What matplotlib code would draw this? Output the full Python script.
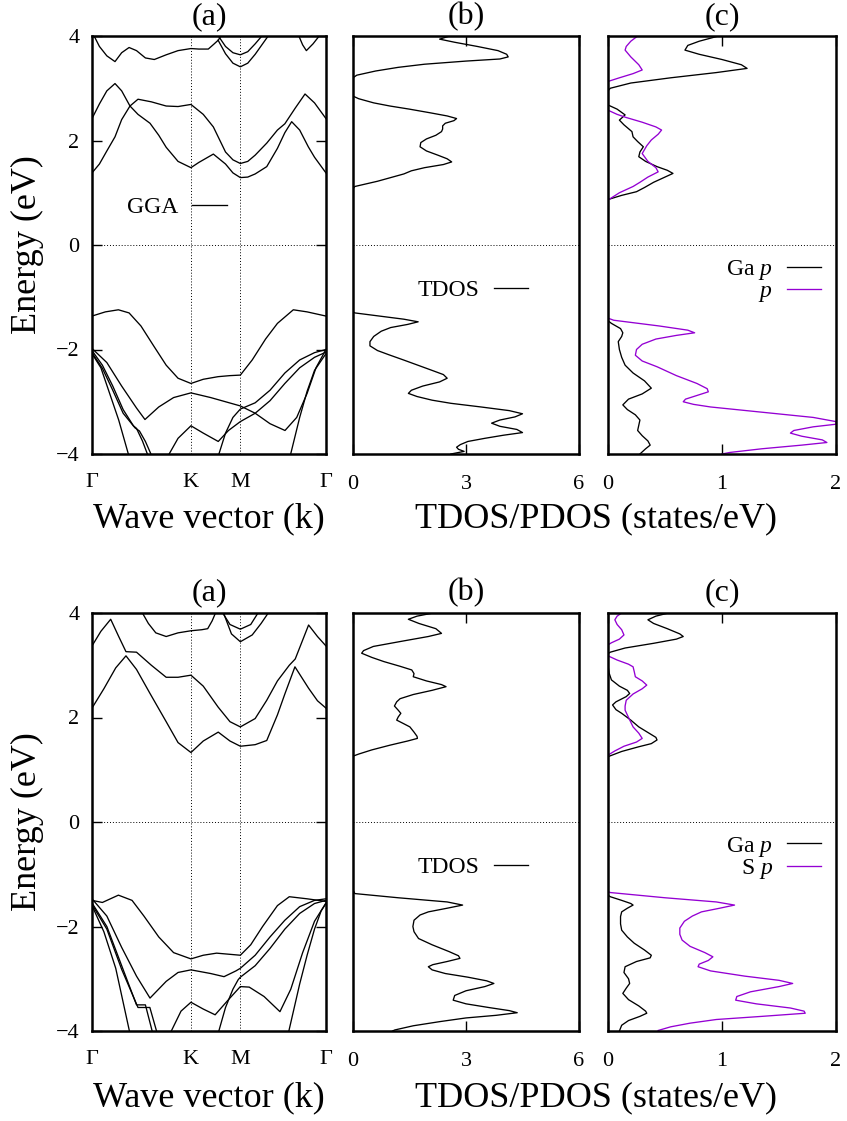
import matplotlib
matplotlib.use("Agg")
import matplotlib.pyplot as plt
from matplotlib.lines import Line2D

plt.rcParams['font.family'] = ['Liberation Serif', 'DejaVu Serif']
plt.rcParams['mathtext.fontset'] = 'custom'
plt.rcParams['mathtext.rm'] = 'Liberation Serif'
plt.rcParams['mathtext.it'] = 'Liberation Serif:italic'

# ---------------- high-symmetry path ----------------
kpath_pos = [0.0, 0.6667, 1.0, 1.5774]
kpath_lbl = ['Γ', 'K', 'M', 'Γ']

# ---------------- TOP: band structure (k, E) ----------------
t_c1_k = [0, 0.05, 0.1, 0.155, 0.2, 0.256, 0.31, 0.4, 0.5, 0.58, 0.667, 0.75, 0.818, 0.9, 0.95, 1.0, 1.05, 1.1, 1.178, 1.25, 1.3, 1.37, 1.436, 1.5, 1.577]
t_c1_e = [1.38, 1.55, 1.8, 2.07, 2.4, 2.66, 2.79, 2.74, 2.66, 2.65, 2.69, 2.5, 2.26, 1.78, 1.63, 1.56, 1.6, 1.72, 1.95, 2.2, 2.32, 2.62, 2.89, 2.72, 2.42]
t_c2_k = [0, 0.05, 0.1, 0.155, 0.2, 0.256, 0.31, 0.391, 0.45, 0.5, 0.58, 0.667, 0.72, 0.818, 0.9, 0.95, 1.0, 1.05, 1.1, 1.178, 1.25, 1.3, 1.346, 1.4, 1.458, 1.5, 1.577]
t_c2_e = [2.42, 2.7, 2.95, 3.09, 2.95, 2.66, 2.5, 2.33, 2.1, 1.87, 1.6, 1.48, 1.58, 1.74, 1.55, 1.38, 1.29, 1.3, 1.36, 1.5, 1.85, 2.15, 2.36, 2.2, 1.88, 1.68, 1.38]
t_c3_k = [0.0, 0.05, 0.1, 0.155, 0.2, 0.25, 0.3, 0.36, 0.42, 0.5, 0.58, 0.667, 0.72, 0.784, 0.82, 0.851, 0.88]
t_c3_e = [4.08, 3.8, 3.62, 3.51, 3.68, 3.78, 3.72, 3.58, 3.55, 3.64, 3.72, 3.76, 3.75, 3.75, 3.84, 3.92, 4.05]
t_c4_k = [0.84, 0.9, 0.95, 1.0, 1.05, 1.1, 1.16]
t_c4_e = [4.05, 3.8, 3.68, 3.64, 3.7, 3.85, 4.05]
t_c5_k = [0.85, 0.9, 0.95, 1.0, 1.05, 1.1, 1.15, 1.2]
t_c5_e = [3.92, 3.66, 3.48, 3.41, 3.48, 3.65, 3.85, 4.05]
t_c6_k = [1.39, 1.42, 1.445, 1.49, 1.54]
t_c6_e = [4.03, 3.83, 3.72, 3.85, 4.03]

t_v1_k = [0, 0.09, 0.178, 0.25, 0.33, 0.42, 0.5, 0.58, 0.667, 0.75, 0.85, 0.93, 1.0, 1.08, 1.17, 1.25, 1.357, 1.45, 1.577]
t_v1_e = [-1.36, -1.28, -1.24, -1.3, -1.55, -1.95, -2.3, -2.55, -2.65, -2.57, -2.52, -2.5, -2.49, -2.2, -1.8, -1.5, -1.24, -1.28, -1.36]
t_v2_k = [0, 0.1, 0.2, 0.3, 0.357, 0.45, 0.55, 0.667, 0.8, 0.9, 1.0, 1.1, 1.2, 1.301, 1.38, 1.45, 1.51, 1.577]
t_v2_e = [-1.98, -2.25, -2.7, -3.12, -3.34, -3.1, -2.92, -2.83, -2.92, -3.0, -3.08, -3.22, -3.42, -3.55, -3.3, -2.84, -2.35, -2.0]
t_v3_k = [0, 0.07, 0.14, 0.21, 0.279, 0.30, 0.34, 0.38]
t_v3_e = [-2.02, -2.3, -2.7, -3.15, -3.46, -3.51, -3.75, -4.05]
t_v4_k = [0, 0.07, 0.14, 0.21, 0.29, 0.32, 0.36, 0.405]
t_v4_e = [-2.06, -2.36, -2.78, -3.22, -3.5, -3.56, -3.76, -4.05]
t_v5_k = [0, 0.06, 0.12, 0.18, 0.25]
t_v5_e = [-2.08, -2.35, -2.85, -3.35, -4.05]
t_v6_k = [0.51, 0.58, 0.667, 0.75, 0.851, 0.92, 1.0, 1.1, 1.2, 1.3, 1.4, 1.5, 1.577]
t_v6_e = [-4.05, -3.7, -3.46, -3.6, -3.76, -3.55, -3.38, -3.22, -2.98, -2.65, -2.35, -2.15, -2.05]
t_v7_k = [0.85, 0.9, 0.95, 1.0, 1.1, 1.2, 1.3, 1.4, 1.5, 1.577]
t_v7_e = [-4.05, -3.6, -3.3, -3.14, -3.02, -2.78, -2.45, -2.2, -2.06, -2.0]
t_v8_k = [1.335, 1.4, 1.45, 1.5, 1.577]
t_v8_e = [-4.05, -3.3, -2.8, -2.4, -2.08]

# ---------------- BOTTOM: band structure (k, E) ----------------
b_c1_k = [0, 0.08, 0.16, 0.229, 0.3, 0.391, 0.5, 0.58, 0.667, 0.75, 0.851, 0.93, 1.0, 1.1, 1.178, 1.25, 1.3, 1.368, 1.46, 1.52, 1.577]
b_c1_e = [2.18, 2.55, 2.95, 3.18, 2.92, 2.46, 1.92, 1.52, 1.33, 1.55, 1.72, 1.55, 1.45, 1.48, 1.56, 2.05, 2.45, 2.97, 2.56, 2.32, 2.18]
b_c2_k = [0, 0.06, 0.126, 0.18, 0.229, 0.3, 0.4, 0.5, 0.58, 0.667, 0.75, 0.85, 0.93, 1.0, 1.1, 1.178, 1.25, 1.33, 1.37, 1.46, 1.52, 1.577]
b_c2_e = [3.37, 3.65, 3.88, 3.55, 3.26, 3.25, 3.0, 2.77, 2.77, 2.81, 2.6, 2.2, 1.92, 1.82, 1.98, 2.33, 2.7, 3.0, 3.12, 3.77, 3.55, 3.37]
b_c3_k = [0.33, 0.38, 0.43, 0.5, 0.58, 0.667, 0.74, 0.78, 0.81, 0.84]
b_c3_e = [4.05, 3.8, 3.62, 3.55, 3.62, 3.66, 3.68, 3.7, 3.85, 4.05]
b_c4_k = [0.87, 0.93, 1.0, 1.07, 1.13]
b_c4_e = [4.05, 3.78, 3.69, 3.78, 4.05]
b_c5_k = [0.88, 0.94, 1.0, 1.08, 1.14, 1.2]
b_c5_e = [4.05, 3.6, 3.45, 3.58, 3.8, 4.05]

b_v1_k = [0, 0.07, 0.178, 0.27, 0.35, 0.45, 0.55, 0.667, 0.75, 0.84, 1.0, 1.07, 1.15, 1.25, 1.33, 1.45, 1.577]
b_v1_e = [-1.5, -1.54, -1.4, -1.5, -1.8, -2.2, -2.5, -2.62, -2.55, -2.51, -2.55, -2.35, -2.0, -1.6, -1.43, -1.47, -1.52]
b_v2_k = [0, 0.1, 0.2, 0.3, 0.391, 0.5, 0.58, 0.667, 0.8, 0.89, 0.97, 1.0, 1.1, 1.2, 1.3, 1.4, 1.5, 1.577]
b_v2_e = [-1.47, -1.8, -2.4, -2.95, -3.37, -3.05, -2.88, -2.83, -2.9, -2.96, -2.85, -2.8, -2.55, -2.2, -1.88, -1.62, -1.5, -1.47]
b_v3_k = [0.526, 0.6, 0.667, 0.75, 0.83, 0.92, 1.0, 1.06, 1.16, 1.267, 1.34, 1.42, 1.5, 1.577]
b_v3_e = [-4.05, -3.62, -3.45, -3.58, -3.69, -3.4, -3.15, -3.16, -3.34, -3.63, -3.2, -2.5, -1.9, -1.55]
b_v4_k = [0.85, 0.9, 0.95, 0.985, 1.0, 1.1, 1.2, 1.3, 1.4, 1.5, 1.577]
b_v4_e = [-4.05, -3.55, -3.2, -3.02, -2.97, -2.75, -2.42, -2.05, -1.75, -1.56, -1.5]
b_v5_k = [1.323, 1.4, 1.45, 1.5, 1.545, 1.577]
b_v5_e = [-4.05, -3.1, -2.55, -2.05, -1.7, -1.56]
b_v6_k = [0, 0.1, 0.2, 0.3, 0.36, 0.41]
b_v6_e = [-1.55, -2.0, -2.75, -3.5, -3.5, -4.05]
b_v7_k = [0, 0.1, 0.2, 0.31, 0.39, 0.44]
b_v7_e = [-1.58, -2.05, -2.82, -3.55, -3.55, -4.05]
b_v8_k = [0, 0.08, 0.16, 0.256]
b_v8_e = [-1.6, -2.1, -2.8, -4.05]

# ---------------- TOP: TDOS (E, states/eV) ----------------
t_tdos_e = [4.0, 3.94, 3.88, 3.8, 3.72, 3.65, 3.6, 3.56, 3.52, 3.46, 3.4, 3.33, 3.25, 3.2, 2.85, 2.8, 2.72, 2.66, 2.6, 2.53, 2.47, 2.42, 2.38, 2.33, 2.28, 2.22, 2.17, 2.1, 2.03, 1.96, 1.88, 1.8, 1.72, 1.65, 1.59, 1.54, 1.48, 1.42, 1.36, 1.3, 1.22, 1.12, 1.08,
            -1.28, -1.3, -1.36, -1.42, -1.47, -1.52, -1.58, -1.65, -1.75, -1.85, -1.93, -2.02, -2.1, -2.2, -2.3, -2.4, -2.48, -2.55, -2.62, -2.7, -2.78, -2.84, -2.9, -2.97, -3.03, -3.1, -3.17, -3.23, -3.29, -3.35, -3.41, -3.47, -3.53, -3.59, -3.64, -3.7, -3.76, -3.82, -3.87, -3.91, -3.95, -4.0]
t_tdos_v = [2.57, 2.3, 2.7, 3.3, 3.85, 4.08, 4.12, 3.9, 3.0, 1.9, 1.2, 0.6, 0.1, 0.0, 0.0, 0.15, 0.55, 0.98, 1.5, 2.05, 2.5, 2.75, 2.68, 2.45, 2.38, 2.38, 2.35, 2.2, 1.95, 1.8, 1.78, 1.95, 2.25, 2.5, 2.62, 2.4, 1.9, 1.55, 1.35, 1.05, 0.65, 0.05, 0.0,
            0.0, 0.05, 0.7, 1.35, 1.73, 1.45, 1.0, 0.75, 0.55, 0.45, 0.45, 0.65, 0.95, 1.34, 1.72, 2.1, 2.4, 2.5, 2.3, 1.85, 1.55, 1.47, 1.7, 2.1, 2.6, 3.4, 4.15, 4.5, 4.3, 3.9, 3.68, 3.9, 4.35, 4.5, 4.0, 3.5, 3.05, 2.85, 2.75, 2.8, 2.95, 2.6]

# ---------------- TOP: PDOS ----------------
t_ga_e = [4.0, 3.9, 3.82, 3.73, 3.65, 3.55, 3.45, 3.38, 3.3, 3.2, 3.1, 3.0, 2.95, 2.68, 2.6, 2.49, 2.39, 2.3, 2.17, 2.07, 1.98, 1.88, 1.78, 1.69, 1.6, 1.5, 1.43, 1.37, 1.3, 1.2, 1.1, 1.02, 0.95, 0.87,
          -1.45, -1.5, -1.6, -1.68, -1.75, -1.85, -2.0, -2.15, -2.3, -2.45, -2.6, -2.74, -2.85, -2.95, -3.06, -3.15, -3.25, -3.35, -3.45, -3.55, -3.65, -3.75, -3.83, -3.9, -4.0]
t_ga_v = [0.97, 0.8, 0.7, 0.675, 0.8, 1.0, 1.17, 1.22, 0.95, 0.55, 0.2, 0.02, 0.0, 0.0, 0.08, 0.15, 0.1, 0.14, 0.21, 0.22, 0.26, 0.31, 0.28, 0.27, 0.33, 0.43, 0.52, 0.57, 0.5, 0.4, 0.32, 0.25, 0.12, 0.0,
          0.0, 0.03, 0.11, 0.13, 0.12, 0.09, 0.1, 0.12, 0.15, 0.22, 0.32, 0.38, 0.3, 0.18, 0.13, 0.17, 0.24, 0.28, 0.27, 0.26, 0.3, 0.35, 0.37, 0.33, 0.28]
t_p_e = [4.0, 3.9, 3.8, 3.73, 3.6, 3.45, 3.35, 3.28, 3.2, 3.13, 2.58, 2.5, 2.44, 2.35, 2.26, 2.2, 2.12, 2.01, 1.9, 1.75, 1.6, 1.48, 1.4, 1.3, 1.2, 1.12, 1.0, 0.86,
         -1.4, -1.44, -1.55, -1.63, -1.68, -1.73, -1.8, -1.9, -2.0, -2.11, -2.22, -2.33, -2.5, -2.65, -2.75, -2.81, -2.88, -2.95, -3.0, -3.05, -3.1, -3.2, -3.3, -3.38, -3.43, -3.48, -3.55, -3.6, -3.66, -3.73, -3.78, -3.83, -3.9, -3.97, -4.0]
t_p_v = [0.26, 0.2, 0.16, 0.15, 0.2, 0.27, 0.3, 0.22, 0.1, 0.0, 0.0, 0.08, 0.16, 0.3, 0.42, 0.47, 0.44, 0.38, 0.34, 0.3, 0.35, 0.42, 0.44, 0.35, 0.28, 0.22, 0.1, 0.0,
         0.0, 0.05, 0.45, 0.7, 0.76, 0.6, 0.42, 0.3, 0.25, 0.24, 0.3, 0.43, 0.6, 0.78, 0.87, 0.88, 0.78, 0.68, 0.66, 0.75, 0.9, 1.35, 1.8, 2.0, 2.0, 1.8, 1.63, 1.6, 1.7, 1.88, 1.92, 1.7, 1.35, 1.07, 1.0]

# ---------------- BOTTOM: TDOS ----------------
b_tdos_e = [4.0, 3.94, 3.88, 3.8, 3.7, 3.61, 3.55, 3.46, 3.36, 3.28, 3.23, 3.15, 3.07, 2.98, 2.91, 2.84, 2.78, 2.7, 2.63, 2.59, 2.52, 2.44, 2.36, 2.3, 2.22, 2.14, 2.08, 2.01, 1.95, 1.88, 1.82, 1.72, 1.64, 1.6, 1.55, 1.47, 1.38, 1.3, 1.26,
            -1.3, -1.37, -1.45, -1.53, -1.59, -1.65, -1.72, -1.78, -1.88, -2.0, -2.1, -2.23, -2.35, -2.48, -2.56, -2.61, -2.67, -2.73, -2.77, -2.83, -2.9, -2.97, -3.04, -3.09, -3.15, -3.23, -3.32, -3.41, -3.48, -3.55, -3.61, -3.65, -3.7, -3.75, -3.82, -3.9, -3.98, -4.0]
b_tdos_v = [2.13, 1.7, 1.47, 1.75, 2.2, 2.35, 2.0, 1.3, 0.54, 0.28, 0.23, 0.5, 0.82, 1.25, 1.56, 1.62, 1.6, 1.95, 2.35, 2.47, 2.1, 1.6, 1.25, 1.16, 1.1, 1.2, 1.27, 1.2, 1.16, 1.35, 1.51, 1.62, 1.7, 1.71, 1.45, 0.98, 0.5, 0.15, 0.0,
            0.0, 0.05, 1.2, 2.5, 2.91, 2.5, 2.0, 1.78, 1.62, 1.59, 1.62, 1.74, 2.1, 2.55, 2.8, 2.84, 2.5, 2.12, 2.0, 2.1, 2.45, 3.05, 3.55, 3.74, 3.5, 3.0, 2.7, 2.66, 3.0, 3.6, 4.15, 4.36, 3.8, 3.0, 2.31, 1.6, 1.11, 1.05]

# ---------------- BOTTOM: PDOS ----------------
b_ga_e = [4.0, 3.94, 3.87, 3.8, 3.7, 3.6, 3.55, 3.5, 3.42, 3.33, 3.25, 3.22, 3.0, 2.85, 2.72, 2.6, 2.52, 2.46, 2.4, 2.3, 2.24, 2.15, 2.08, 1.95, 1.82, 1.7, 1.62, 1.57, 1.5, 1.44, 1.35, 1.25,
          -1.4, -1.43, -1.5, -1.56, -1.59, -1.65, -1.72, -1.81, -1.95, -2.07, -2.2, -2.32, -2.45, -2.55, -2.6, -2.67, -2.77, -2.88, -3.0, -3.09, -3.18, -3.28, -3.4, -3.52, -3.62, -3.66, -3.72, -3.8, -3.89, -4.0]
b_ga_v = [0.53, 0.42, 0.35, 0.4, 0.52, 0.63, 0.66, 0.6, 0.4, 0.15, 0.02, 0.0, 0.0, 0.01, 0.03, 0.1, 0.17, 0.19, 0.16, 0.07, 0.04, 0.07, 0.12, 0.2, 0.27, 0.36, 0.42, 0.43, 0.38, 0.27, 0.12, 0.0,
          0.0, 0.02, 0.12, 0.2, 0.22, 0.17, 0.12, 0.11, 0.11, 0.12, 0.17, 0.23, 0.32, 0.38, 0.37, 0.25, 0.15, 0.14, 0.18, 0.19, 0.16, 0.13, 0.18, 0.27, 0.33, 0.34, 0.28, 0.18, 0.12, 0.1]
b_sp_e = [4.0, 3.94, 3.87, 3.78, 3.68, 3.58, 3.5, 3.43, 3.39, 3.18, 3.1, 3.02, 2.97, 2.88, 2.78, 2.7, 2.62, 2.55, 2.45, 2.33, 2.22, 2.14, 2.0, 1.82, 1.7, 1.6, 1.53, 1.45, 1.36, 1.28,
          -1.33, -1.35, -1.45, -1.53, -1.59, -1.65, -1.72, -1.8, -1.9, -2.03, -2.15, -2.26, -2.38, -2.5, -2.58, -2.65, -2.72, -2.77, -2.85, -2.95, -3.03, -3.09, -3.15, -3.25, -3.34, -3.41, -3.48, -3.56, -3.62, -3.66, -3.72, -3.78, -3.85, -3.92, -3.99]
b_sp_v = [0.12, 0.08, 0.06, 0.08, 0.12, 0.14, 0.1, 0.03, 0.0, 0.0, 0.08, 0.18, 0.22, 0.23, 0.24, 0.3, 0.34, 0.3, 0.22, 0.16, 0.15, 0.15, 0.18, 0.22, 0.27, 0.3, 0.25, 0.14, 0.06, 0.0,
          0.0, 0.02, 0.5, 0.95, 1.11, 0.98, 0.82, 0.74, 0.67, 0.63, 0.63, 0.65, 0.72, 0.85, 0.92, 0.88, 0.8, 0.79, 0.9, 1.2, 1.5, 1.62, 1.5, 1.25, 1.13, 1.12, 1.3, 1.6, 1.72, 1.73, 1.35, 0.95, 0.72, 0.55, 0.44]

top_bands = [(t_c1_k, t_c1_e), (t_c2_k, t_c2_e), (t_c3_k, t_c3_e), (t_c4_k, t_c4_e),
             (t_c5_k, t_c5_e), (t_c6_k, t_c6_e), (t_v1_k, t_v1_e), (t_v2_k, t_v2_e),
             (t_v3_k, t_v3_e), (t_v4_k, t_v4_e), (t_v5_k, t_v5_e), (t_v6_k, t_v6_e),
             (t_v7_k, t_v7_e), (t_v8_k, t_v8_e)]
bot_bands = [(b_c1_k, b_c1_e), (b_c2_k, b_c2_e), (b_c3_k, b_c3_e), (b_c4_k, b_c4_e),
             (b_c5_k, b_c5_e), (b_v1_k, b_v1_e), (b_v2_k, b_v2_e), (b_v3_k, b_v3_e),
             (b_v4_k, b_v4_e), (b_v5_k, b_v5_e), (b_v6_k, b_v6_e), (b_v7_k, b_v7_e),
             (b_v8_k, b_v8_e)]

PURPLE = '#9400d3'
W, H = 847, 1121
fig = plt.figure(figsize=(W / 100, H / 100), dpi=100)


def rect(x0, x1, ytop, ybot):
    return [x0 / W, 1 - ybot / H, (x1 - x0) / W, (ybot - ytop) / H]


TICK_FS = 16
LEG_FS = 17
LAB_FS = 26
TITLE_FS = 23
SPINE_LW = 1.8
LINE_LW = 0.95
DOT = (0, (1, 2))


def style_common(ax):
    for s in ax.spines.values():
        s.set_linewidth(SPINE_LW)
    ax.set_ylim(-4, 4)
    ax.axhline(0, color='black', lw=0.7, ls=DOT, zorder=1)


def legend(ax, handles, labels, anchor):
    ax.legend(handles, labels, loc='center right', bbox_to_anchor=anchor,
              frameon=False, markerfirst=False, fontsize=LEG_FS,
              handlelength=1.45, handletextpad=0.6, borderpad=0,
              borderaxespad=0, labelspacing=-0.05)


def band_panel(ax, bands, legend_anchor, show_legend):
    style_common(ax)
    for k, e in bands:
        ax.plot(k, e, color='black', lw=LINE_LW, solid_joinstyle='round', zorder=2)
    ax.set_xlim(kpath_pos[0], kpath_pos[-1])
    for xv in kpath_pos[1:3]:
        ax.axvline(xv, color='black', lw=0.7, ls=DOT, zorder=1)
    ax.set_xticks(kpath_pos)
    ax.set_xticklabels(kpath_lbl)
    ax.set_yticks([-4, -2, 0, 2, 4])
    ax.set_yticklabels(['−4', '−2', '0', '2', '4'])
    ax.tick_params(axis='y', direction='in', length=7, width=1, left=True, right=True,
                   labelsize=TICK_FS, pad=9)
    ax.tick_params(axis='x', length=0, labelsize=TICK_FS, pad=14)
    if show_legend:
        legend(ax, [Line2D([], [], color='black', lw=LINE_LW)], ['GGA'], legend_anchor)


def dos_panel(ax, xmax, ticks, curves, leg_handles, leg_labels, legend_anchor):
    style_common(ax)
    for e, v, c in curves:
        ax.plot(v, e, color=c, lw=LINE_LW, zorder=2, clip_on=True)
    ax.set_xlim(0, xmax)
    ax.set_xticks(ticks)
    ax.set_xticklabels([str(t) for t in ticks])
    ax.set_yticks([])
    ax.tick_params(axis='x', direction='in', length=7, width=1, top=True, bottom=True,
                   labelsize=TICK_FS, pad=15)
    legend(ax, leg_handles, leg_labels, legend_anchor)


rows = [
    dict(ytop=36, ybot=454, bands=top_bands, tdos=(t_tdos_e, t_tdos_v),
         ga=(t_ga_e, t_ga_v), p=(t_p_e, t_p_v), plabel='$p$', show_gga=True,
         title_y=17, xlab_y=519),
    dict(ytop=613, ybot=1031, bands=bot_bands, tdos=(b_tdos_e, b_tdos_v),
         ga=(b_ga_e, b_ga_v), p=(b_sp_e, b_sp_v), plabel='S $p$', show_gga=False,
         title_y=593, xlab_y=1098),
]

for r in rows:
    hgt = r['ybot'] - r['ytop']
    axa = fig.add_axes(rect(92, 326, r['ytop'], r['ybot']))
    axb = fig.add_axes(rect(353, 579, r['ytop'], r['ybot']))
    axc = fig.add_axes(rect(608, 836, r['ytop'], r['ybot']))

    band_panel(axa, r['bands'], (0.575, (r['ybot'] - (r['ytop'] + 171)) / hgt), r['show_gga'])

    dos_panel(axb, 6, [0, 3, 6], [(r['tdos'][0], r['tdos'][1], 'black')],
              [Line2D([], [], color='black', lw=LINE_LW)], ['TDOS'],
              (0.775, (r['ybot'] - (r['ytop'] + 254)) / hgt))

    dos_panel(axc, 2, [0, 1, 2],
              [(r['ga'][0], r['ga'][1], 'black'), (r['p'][0], r['p'][1], PURPLE)],
              [Line2D([], [], color='black', lw=LINE_LW),
               Line2D([], [], color=PURPLE, lw=LINE_LW)],
              ['Ga $p$', r['plabel']],
              (0.935, (r['ybot'] - (r['ytop'] + 245)) / hgt))

    for ax, lab in zip([axa, axb, axc], ['(a)', '(b)', '(c)']):
        pos = ax.get_position()
        fig.text(pos.x0 + pos.width / 2, 1 - r['title_y'] / H, lab,
                 ha='center', va='center', fontsize=TITLE_FS)

    fig.text(209 / W, 1 - r['xlab_y'] / H, 'Wave vector (k)', ha='center',
             va='center', fontsize=LAB_FS)
    fig.text(596 / W, 1 - r['xlab_y'] / H, 'TDOS/PDOS (states/eV)', ha='center',
             va='center', fontsize=LAB_FS)
    fig.text(27 / W, 1 - ((r['ytop'] + r['ybot']) / 2) / H, 'Energy (eV)',
             ha='center', va='center', rotation=90, fontsize=LAB_FS)

fig.savefig('out.png', dpi=100)
